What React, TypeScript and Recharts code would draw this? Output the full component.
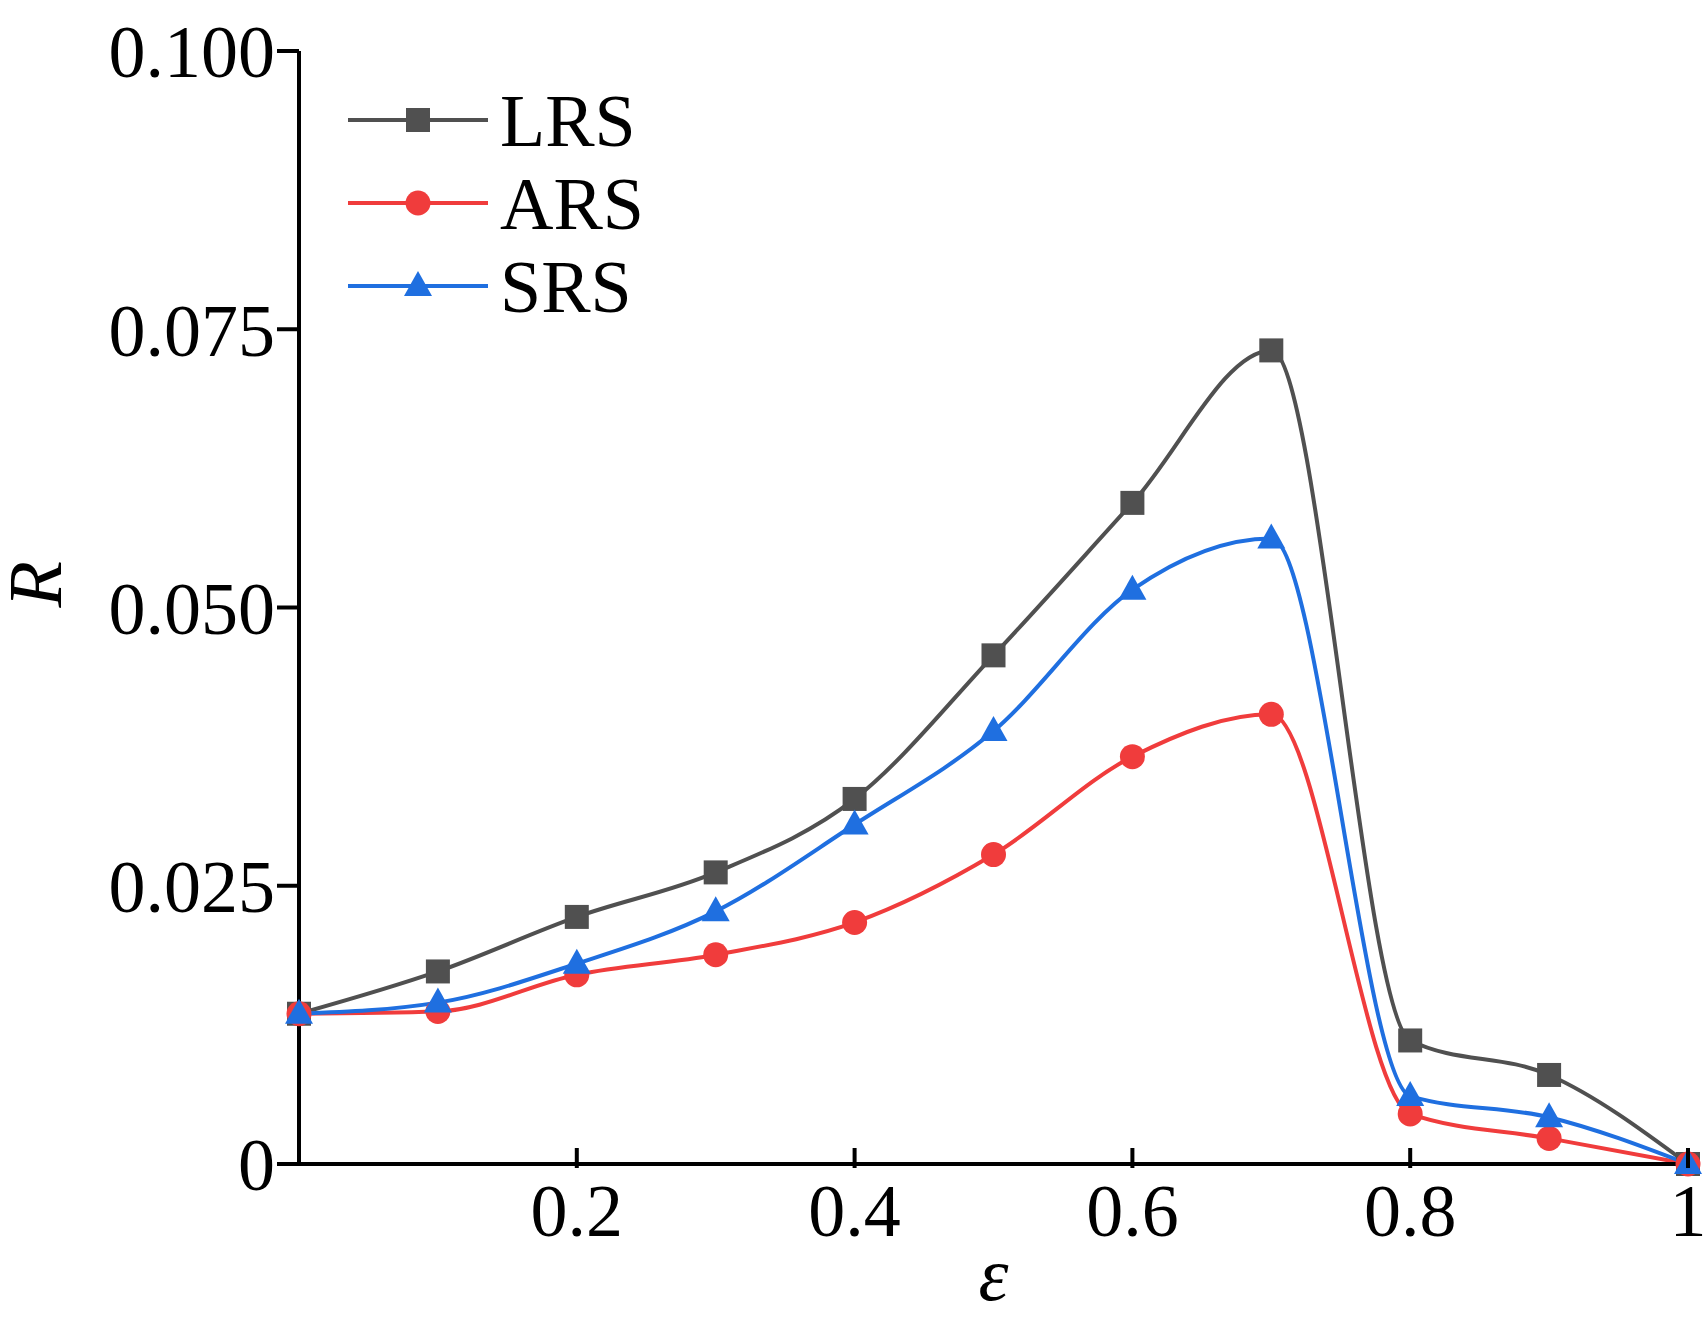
import React from 'react';
import { LineChart, Line, XAxis, YAxis } from 'recharts';

const eps = [0, 0.1, 0.2, 0.3, 0.4, 0.5, 0.6, 0.7, 0.8, 0.9, 1];
const lrs = [0.0135, 0.0173, 0.0222, 0.0262, 0.0328, 0.0457, 0.0594, 0.0731, 0.0111, 0.008, 0];
const ars = [0.0135, 0.0137, 0.017, 0.0188, 0.0217, 0.0278, 0.0366, 0.0404, 0.0045, 0.0023, 0];
const srs = [0.0135, 0.0145, 0.018, 0.0227, 0.0305, 0.0389, 0.0516, 0.0562, 0.0061, 0.0042, 0];
const xTicks = [0.2, 0.4, 0.6, 0.8, 1];
const yTicks = [0, 0.025, 0.05, 0.075, 0.1];

const data = eps.map((e, i) => ({ e, lrs: lrs[i], ars: ars[i], srs: srs[i] }));

const FONT = '"Liberation Serif", "Times New Roman", serif';
const GRAY = '#505050';
const RED = '#f03c3c';
const BLUE = '#1f6fe0';

const Square = (p: any) => (p.cx == null ? null : <rect x={p.cx - 12} y={p.cy - 12} width={24} height={24} fill={GRAY} />);
const Circle = (p: any) => (p.cx == null ? null : <circle cx={p.cx} cy={p.cy} r={12.5} fill={RED} />);
const Tri = (p: any) =>
  p.cx == null ? null : <polygon points={`${p.cx},${p.cy - 15} ${p.cx - 14},${p.cy + 10} ${p.cx + 14},${p.cy + 10}`} fill={BLUE} />;

const XTick = (p: any) => (
  <g>
    <line x1={p.x} x2={p.x} y1={p.y - 24} y2={p.y - 4} stroke="#000" strokeWidth={4} />
    <text x={p.x} y={p.y + 64} textAnchor="middle" fontFamily={FONT} fontSize={74} fill="#000">
      {p.payload.value}
    </text>
  </g>
);

const yFmt = (v: number) => (v === 0 ? '0' : v.toFixed(3));

const legendItems = [
  { name: 'LRS', color: GRAY, M: Square },
  { name: 'ARS', color: RED, M: Circle },
  { name: 'SRS', color: BLUE, M: Tri },
];

export default function App() {
  return (
    <div style={{ position: 'absolute', left: 0, top: 0, width: 1706, height: 1320, background: '#fff' }}>
      <LineChart width={1706} height={1320} data={data} margin={{ top: 51, right: 18, left: 0, bottom: 0 }}>
        <XAxis
          dataKey="e"
          type="number"
          domain={[0, 1]}
          ticks={xTicks}
          height={156}
          axisLine={{ stroke: '#000', strokeWidth: 4 }}
          tickLine={false}
          tick={<XTick />}
          label={{ value: 'ε', position: 'insideBottom', offset: 20, fontFamily: FONT, fontSize: 76, fontStyle: 'italic', fill: '#000' }}
        />
        <YAxis
          type="number"
          domain={[0, 0.1]}
          ticks={yTicks}
          tickFormatter={yFmt}
          width={299}
          axisLine={{ stroke: '#000', strokeWidth: 4 }}
          tickLine={{ stroke: '#000', strokeWidth: 4 }}
          tickSize={22}
          tick={{ fontFamily: FONT, fontSize: 74, fill: '#000' }}
          label={{ value: 'R', angle: -90, position: 'insideLeft', offset: 34, fontFamily: FONT, fontSize: 76, fontStyle: 'italic', fill: '#000' }}
        />
        <Line type="monotone" dataKey="lrs" stroke={GRAY} strokeWidth={4} dot={<Square />} isAnimationActive={false} />
        <Line type="monotone" dataKey="ars" stroke={RED} strokeWidth={4} dot={<Circle />} isAnimationActive={false} />
        <Line type="monotone" dataKey="srs" stroke={BLUE} strokeWidth={4} dot={<Tri />} isAnimationActive={false} />
      </LineChart>
      <svg style={{ position: 'absolute', left: 340, top: 80 }} width={340} height={260}>
        {legendItems.map((it, i) => {
          const y = 40 + i * 83;
          const M = it.M;
          return (
            <g key={it.name}>
              <line x1={8} x2={148} y1={y} y2={y} stroke={it.color} strokeWidth={4} />
              <M cx={78} cy={y} />
              <text x={160} y={y + 26} fontFamily={FONT} fontSize={74} fill="#000">
                {it.name}
              </text>
            </g>
          );
        })}
      </svg>
    </div>
  );
}
